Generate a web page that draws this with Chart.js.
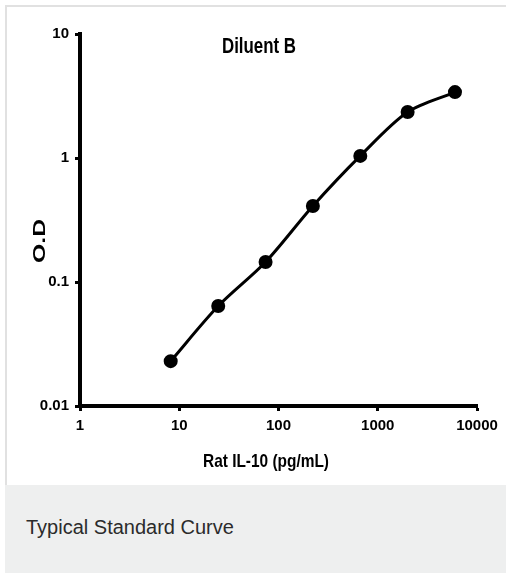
<!DOCTYPE html>
<html>
<head>
<meta charset="utf-8">
<script src="https://cdn.jsdelivr.net/npm/chart.js@4.4.2/dist/chart.umd.min.js"></script>
<style>
  html, body { margin: 0; padding: 0; background: #fff; }
  body { width: 506px; height: 574px; position: relative; overflow: hidden; }
  #frame {
    position: absolute; left: 5px; top: 5px; width: 520px; height: 478px;
    border: 2px solid #e1e1e1; background: #fff;
  }
  #chart { position: absolute; left: 0; top: 0; }
  #caption {
    position: absolute; left: 5px; top: 485px; width: 520px; height: 88px;
    background: #eeefef; color: #2b2b2b;
    font: 20px/23px "Liberation Sans", Arial, sans-serif;
  }
  #caption span { position: absolute; left: 21px; top: 31px; }
</style>
</head>
<body>
<div id="frame"></div>
<canvas id="chart" width="506" height="485"></canvas>
<div id="caption"><span>Typical Standard Curve</span></div>
<script>
const chartTitle = 'Diluent B';
const xTitle = 'Rat IL-10 (pg/mL)';
const yTitle = 'O.D';
const concentrations = [8.2, 24.7, 74.1, 222, 667, 2000, 6000];
const odValues = [0.023, 0.064, 0.145, 0.41, 1.04, 2.35, 3.4];
const xTicks = [1, 10, 100, 1000, 10000];
const yTicks = [0.01, 0.1, 1, 10];

const sans = '"Liberation Sans", Arial, sans-serif';

// draw a label squeezed/stretched to a given length, like the narrow font of the original
function fittedText(ctx, text, font, cx, cy, length, angle) {
  ctx.save();
  ctx.font = font;
  const w = ctx.measureText(text).width;
  ctx.translate(cx, cy);
  ctx.rotate(angle);
  ctx.scale(length / w, 1);
  ctx.fillStyle = '#000';
  ctx.textAlign = 'center';
  ctx.textBaseline = 'middle';
  ctx.fillText(text, 0, 0);
  ctx.restore();
}

const titles = {
  id: 'titles',
  afterDraw(chart) {
    const ctx = chart.ctx;
    fittedText(ctx, chartTitle, 'bold 22px ' + sans, 259, 47, 74, 0);
    fittedText(ctx, xTitle, 'bold 19px ' + sans, 266, 462, 126, 0);
    fittedText(ctx, yTitle, 'bold 16px ' + sans, 41, 241, 44, -Math.PI / 2);
  }
};

const axisStyle = {
  grid: { display: true, drawOnChartArea: false, drawTicks: true, tickLength: 5, tickWidth: 3, color: '#000' },
  border: { display: true, color: '#000', width: 4 }
};

new Chart(document.getElementById('chart'), {
  type: 'line',
  data: {
    datasets: [{
      data: concentrations.map((x, i) => ({ x: x, y: odValues[i] })),
      borderColor: '#000',
      backgroundColor: '#000',
      borderWidth: 3,
      tension: 0.3,
      pointRadius: 5.5,
      pointHoverRadius: 5.5
    }]
  },
  options: {
    responsive: false,
    animation: false,
    devicePixelRatio: 1,
    layout: { padding: { left: 0, right: 29, top: 34, bottom: 0 } },
    plugins: {
      legend: { display: false },
      tooltip: { enabled: false }
    },
    scales: {
      x: {
        type: 'logarithmic',
        min: 1,
        max: 10000,
        ...axisStyle,
        afterBuildTicks: (scale) => { scale.ticks = xTicks.map(v => ({ value: v })); },
        afterFit: (scale) => { scale.height = 79; },
        ticks: {
          padding: 6,
          color: '#000',
          font: { family: sans, size: 15, weight: 'bold' },
          callback: (v) => String(v),
          maxRotation: 0
        }
      },
      y: {
        type: 'logarithmic',
        min: 0.01,
        max: 10,
        ...axisStyle,
        afterBuildTicks: (scale) => { scale.ticks = yTicks.map(v => ({ value: v })); },
        afterFit: (scale) => { scale.width = 80; },
        ticks: {
          padding: 6,
          color: '#000',
          font: { family: sans, size: 15, weight: 'bold' },
          callback: (v) => String(v)
        }
      }
    }
  },
  plugins: [titles]
});
</script>
</body>
</html>
